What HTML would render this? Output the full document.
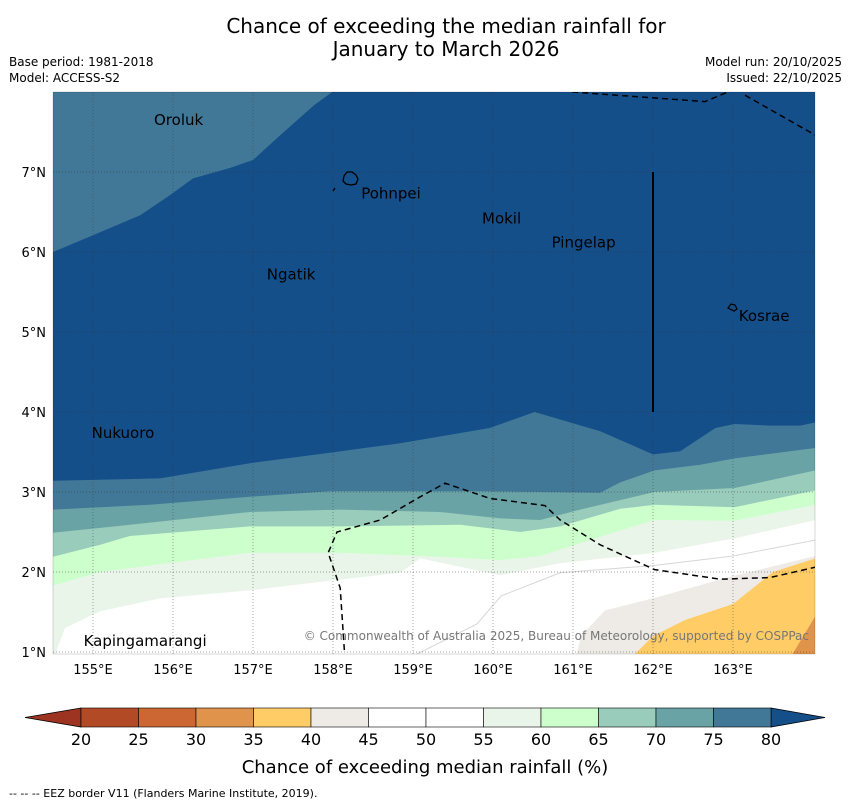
<!DOCTYPE html>
<html><head><meta charset="utf-8"><style>
body{margin:0;background:#fff;font-family:"Liberation Sans","DejaVu Sans",sans-serif;}
#wrap{position:relative;width:850px;height:804px;overflow:hidden;}
</style></head><body>
<div id="wrap">
<svg id="svg" width="850" height="804" xmlns="http://www.w3.org/2000/svg" font-family="DejaVu Sans, Liberation Sans, sans-serif">
<text x="446" y="33" font-size="20" text-anchor="middle">Chance of exceeding the median rainfall for</text>
<text x="446" y="56" font-size="20" text-anchor="middle">January to March 2026</text>
<text x="9" y="66" font-size="12">Base period: 1981-2018</text>
<text x="9" y="82" font-size="12">Model: ACCESS-S2</text>
<text x="842" y="66" font-size="12" text-anchor="end">Model run: 20/10/2025</text>
<text x="842" y="82" font-size="12" text-anchor="end">Issued: 22/10/2025</text>
<defs><clipPath id="mc"><rect x="53" y="92" width="762" height="562"/></clipPath></defs>
<g id="map" clip-path="url(#mc)"></g>
<g id="overlay"></g>
<g id="cbar"></g>
<text x="425" y="773" font-size="18" text-anchor="middle">Chance of exceeding median rainfall (%)</text>
<text x="9" y="797" font-size="11">--  --  -- EEZ border V11 (Flanders Marine Institute, 2019).</text>
</svg>
</div>
<script>
// ---- data ----
const lonTicks=[155,156,157,158,159,160,161,162,163];
const latTicks=[1,2,3,4,5,6,7];
const levels=[20,25,30,35,40,45,50,55,60,65,70,75,80];
const bandColors=["#b34a26","#cc6633","#e0934a","#ffcc66","#eeebe6","#ffffff","#ffffff","#eaf5e9","#ccffcc","#99ccbb","#6aa3a5","#417898"];
const lowColor="#9c3421", highColor="#154f8a";
const c80=[[154.5,3.14],[155.84,3.17],[156.96,3.36],[157.96,3.49],[158.84,3.61],[159.96,3.80],[160.52,4.0],[161.34,3.76],[162.0,3.47],[162.34,3.51],[162.78,3.80],[163.02,3.85],[163.46,3.83],[163.84,3.83],[164.03,3.87]];
const c75=[[154.5,2.78],[155.71,2.84],[156.96,2.94],[157.96,3.01],[159.84,3.01],[161.34,2.99],[161.59,3.12],[162.02,3.27],[162.59,3.34],[163.02,3.42],[164.03,3.55]];
const c70=[[154.5,2.49],[155.46,2.59],[156.96,2.75],[158.09,2.78],[159.34,2.75],[160.09,2.67],[160.59,2.65],[161.09,2.78],[162.02,3.0],[163.02,3.05],[164.03,3.27]];
const c65=[[154.5,2.19],[155.09,2.34],[155.46,2.45],[156.96,2.57],[158.09,2.57],[159.59,2.59],[160.34,2.5],[160.84,2.57],[161.59,2.79],[162.02,2.84],[163.02,2.81],[164.03,3.02]];
const c60=[[154.5,1.83],[155.09,2.0],[156.96,2.24],[158.09,2.24],[159.34,2.19],[160.09,2.15],[160.59,2.2],[161.59,2.52],[162.02,2.65],[163.02,2.64],[164.03,2.84]];
const c55=[[154.5,0.9],[154.65,1.3],[155.09,1.51],[155.84,1.67],[156.96,1.77],[157.96,1.89],[158.84,1.99],[159.09,2.17],[160.09,1.96],[160.84,2.11],[162.02,2.24],[163.02,2.42],[164.03,2.65]];
const c50=[[158.9,0.9],[159.8,1.35],[160.1,1.7],[160.84,1.99],[162.0,2.08],[163.0,2.2],[164.03,2.4]];
const c45=[[161.03,0.9],[161.1,1.2],[161.4,1.52],[162.0,1.67],[163.0,1.95],[164.03,2.2]];
const c40=[[161.7,0.9],[162.0,1.2],[162.4,1.4],[163.0,1.6],[163.5,2.0],[164.03,2.17]];
const c35=[[163.7,0.9],[164.03,1.45]];
const ulLevel75=[[154.5,6.0],[155.0,6.21],[155.59,6.46],[155.96,6.71],[156.25,6.92],[156.71,7.05],[157.0,7.15],[157.34,7.46],[157.77,7.84],[157.99,8.0]];
const eez1=[[158.15,0.9],[158.09,1.8],[157.94,2.24],[158.05,2.5],[158.59,2.65],[159.09,2.94],[159.4,3.11],[159.96,2.92],[160.65,2.83],[160.84,2.65],[161.34,2.34],[162.02,2.03],[162.84,1.91],[163.46,1.93],[164.03,2.06]];
const eez2=[[160.99,8.0],[162.65,7.88],[163.05,8.05]];
const eez3=[[163.15,7.96],[164.03,7.46]];
const islands=[["Oroluk",155.75,7.65],["Pohnpei",158.34,6.73],["Mokil",159.85,6.42],["Pingelap",160.72,6.12],["Ngatik",157.16,5.72],["Kosrae",163.06,5.2],["Nukuoro",154.97,3.74],["Kapingamarangi",154.87,1.14]];
// ---- axes ----
const X0=53,X1=815,Y0=92,Y1=654;
const xs=lon=>X0+(lon-154.5)*80;
const ys=lat=>Y0+(8-lat)*80;
const NS="http://www.w3.org/2000/svg";
function mk(tag,attrs,parent){const e=document.createElementNS(NS,tag);for(const k in attrs)e.setAttribute(k,attrs[k]);parent.appendChild(e);return e;}
const pts=a=>a.map(p=>xs(p[0]).toFixed(1)+","+ys(p[1]).toFixed(1)).join(" ");
const map=document.getElementById("map"),ov=document.getElementById("overlay"),cb=document.getElementById("cbar");
let r=mk("rect",{x:X0,y:Y0,width:X1-X0,height:Y1-Y0,fill:highColor},map);


let ul=mk("polygon",{points:pts([[154.5,8.2]].concat(ulLevel75)),fill:bandColors[11]},map);


const bands=[[c80,11],[c75,10],[c70,9],[c65,8],[c60,7],[c55,6],[c45,4],[c40,3],[c35,2]];
bands.forEach(([line,ci])=>{
  const first=line[0],last=line[line.length-1];
  const poly=line.concat([[Math.max(last[0],164.1),0.8],[Math.min(first[0],154.4),0.8]]);
  const p=mk("polygon",{points:pts(poly),fill:bandColors[ci]},map);
  
  
});
let l50=mk("polyline",{points:pts(c50),fill:"none",stroke:"#d6d6d6","stroke-width":1},map);


lonTicks.forEach(l=>{
  const g=mk("line",{x1:xs(l),x2:xs(l),y1:Y0,y2:Y1,stroke:"#333","stroke-width":0.7,"stroke-dasharray":"1,2",opacity:0.6},ov);
  
  
  const t=mk("text",{x:xs(l),y:Y1+20,"font-size":13,"text-anchor":"middle"},ov);t.textContent=l+"°E";
  
  
});
latTicks.forEach(l=>{
  const g=mk("line",{x1:X0,x2:X1,y1:ys(l),y2:ys(l),stroke:"#333","stroke-width":0.7,"stroke-dasharray":"1,2",opacity:0.6},ov);
  
  
  const t=mk("text",{x:X0-7,y:ys(l)+5,"font-size":13,"text-anchor":"end"},ov);t.textContent=l+"°N";
  
  
});
[eez1,eez2,eez3].forEach((e,i)=>{
  const p=mk("polyline",{points:pts(e),fill:"none",stroke:"#000","stroke-width":1.5,"stroke-dasharray":"6,4","clip-path":"url(#mc)"},ov);
  
  
});
let vl=mk("line",{x1:xs(162),x2:xs(162),y1:ys(7),y2:ys(4),stroke:"#000","stroke-width":2},ov);


let pb=mk("path",{d:"M344,176 l3,-4 l5,0 l4,3 l2,4 l-2,5 l-5,1 l-5,-1 l-3,-3 z M333,191 l2,-3",fill:"none",stroke:"#000","stroke-width":1.3},ov);


let kb=mk("path",{d:"M728,308 l3,-4 l4,1 l2,4 l-3,2 z",fill:"none",stroke:"#000","stroke-width":1.2},ov);


islands.forEach(([n,lo,la])=>{
  const t=mk("text",{x:xs(lo)+1,y:ys(la)+5,"font-size":15},ov);t.textContent=n;
  
  
});
let cr=mk("text",{x:809,y:640,"font-size":12,"text-anchor":"end",fill:"#777"},ov);
cr.textContent="© Commonwealth of Australia 2025, Bureau of Meteorology, supported by COSPPac";


let fr=mk("rect",{x:X0,y:Y0,width:X1-X0,height:Y1-Y0,fill:"none",stroke:"#000","stroke-width":0.5,opacity:0.3},ov);


const CB0=81,CB1=771,CBy=708,CBh=19,sw=(CB1-CB0)/bandColors.length;
let lt=mk("polygon",{points:`${CB0},${CBy} 25,${CBy+CBh/2} ${CB0},${CBy+CBh}`,fill:lowColor,stroke:"#000","stroke-width":0.8},cb);


let rt=mk("polygon",{points:`${CB1},${CBy} 825,${CBy+CBh/2} ${CB1},${CBy+CBh}`,fill:highColor,stroke:"#000","stroke-width":0.8},cb);


bandColors.forEach((c,i)=>{
  const s=mk("rect",{x:CB0+i*sw,y:CBy,width:sw,height:CBh,fill:c,stroke:"#000","stroke-width":0.6},cb);
  
  
});
levels.forEach((v,i)=>{
  const t=mk("text",{x:CB0+i*sw,y:745,"font-size":16,"text-anchor":"middle"},cb);t.textContent=v;
  
  
});
</script>
</body></html>
